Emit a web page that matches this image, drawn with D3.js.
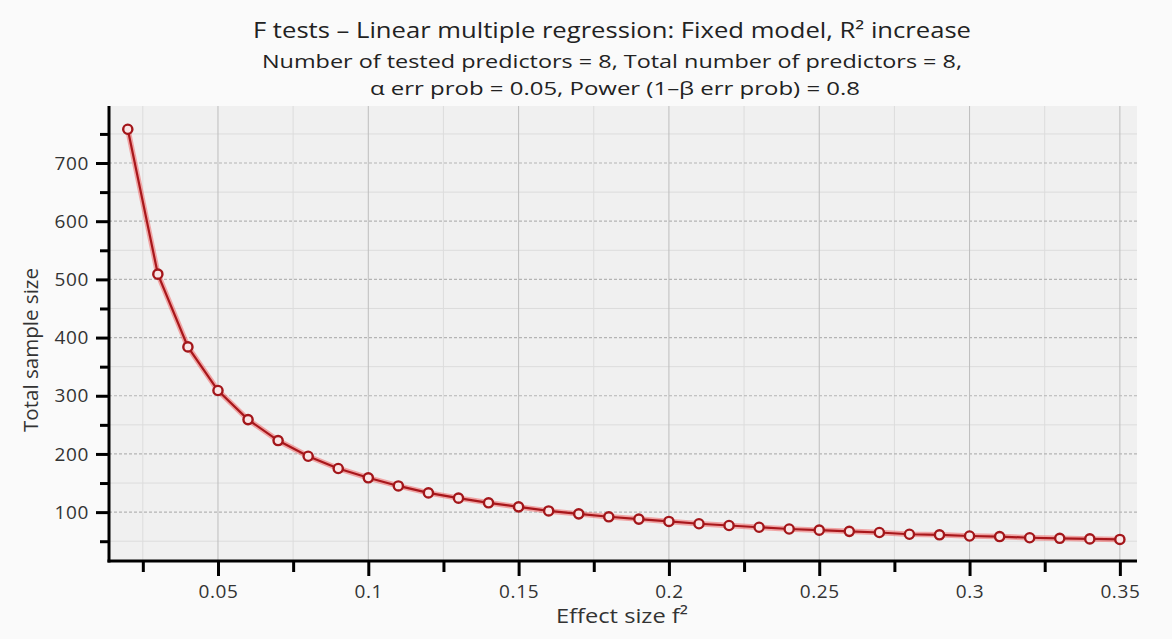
<!DOCTYPE html>
<html>
<head>
<meta charset="utf-8">
<script src="https://cdn.jsdelivr.net/npm/d3@7"></script>
<style>
  body { margin: 0; background: #fafafa; }
  svg { display: block; font-family: "Open Sans", "DejaVu Sans", sans-serif; }
</style>
</head>
<body>
<div id="chart"></div>
<script>
// effect size f² values and total sample size
var effectSizes = [0.02, 0.03, 0.04, 0.05, 0.06, 0.07, 0.08, 0.09, 0.10, 0.11, 0.12,
  0.13, 0.14, 0.15, 0.16, 0.17, 0.18, 0.19, 0.20, 0.21, 0.22, 0.23, 0.24, 0.25,
  0.26, 0.27, 0.28, 0.29, 0.30, 0.31, 0.32, 0.33, 0.34, 0.35];
var sampleSizes = [758, 509, 384, 309, 259, 223, 196, 175, 159, 145, 133,
  124, 116, 109, 102, 97, 92, 88, 84, 80, 77, 74, 71, 69,
  67, 65, 62, 61, 59, 58, 56, 55, 54, 53];
var xMajorTicks = [0.05, 0.1, 0.15, 0.2, 0.25, 0.3, 0.35];
var xMinorTicks = [0.025, 0.075, 0.125, 0.175, 0.225, 0.275, 0.325];
var yMajorTicks = [100, 200, 300, 400, 500, 600, 700];
var yMinorTicks = [50, 150, 250, 350, 450, 550, 650, 750];

var titleText = "F tests \u2013 Linear multiple regression: Fixed model, R\u00b2 increase";
var subLine1 = "Number of tested predictors = 8, Total number of predictors = 8,";
var subLine2 = "\u03b1 err prob = 0.05, Power (1\u2013\u03b2 err prob) = 0.8";

var width = 1172, height = 639;
var plotLeft = 109, plotRight = 1137, plotTop = 106, plotBottom = 561;

var svg = d3.select("#chart").append("svg")
  .attr("width", width)
  .attr("height", height);

svg.append("rect").attr("width", width).attr("height", height).attr("fill", "#fafafa");

var x = d3.scaleLinear().domain([0.01375, 0.3557]).range([plotLeft, plotRight]);
var y = d3.scaleLinear().domain([16, 798]).range([plotBottom, plotTop]);

// plot background
svg.append("rect")
  .attr("x", plotLeft).attr("y", plotTop)
  .attr("width", plotRight - plotLeft).attr("height", plotBottom - plotTop)
  .attr("fill", "#f0f0f0");

// grid
var grid = svg.append("g");
grid.selectAll(".ymin").data(yMinorTicks).enter().append("line")
  .attr("x1", plotLeft).attr("x2", plotRight)
  .attr("y1", function(d){ return y(d); }).attr("y2", function(d){ return y(d); })
  .attr("stroke", "#dcdcdc").attr("stroke-width", 1);
grid.selectAll(".xmin").data(xMinorTicks).enter().append("line")
  .attr("y1", plotTop).attr("y2", plotBottom)
  .attr("x1", function(d){ return x(d); }).attr("x2", function(d){ return x(d); })
  .attr("stroke", "#dcdcdc").attr("stroke-width", 1);
grid.selectAll(".ymaj").data(yMajorTicks).enter().append("line")
  .attr("x1", plotLeft).attr("x2", plotRight)
  .attr("y1", function(d){ return y(d); }).attr("y2", function(d){ return y(d); })
  .attr("stroke", "#b4b4b4").attr("stroke-width", 1.2)
  .attr("stroke-dasharray", "3,2");
grid.selectAll(".xmaj").data(xMajorTicks).enter().append("line")
  .attr("y1", plotTop).attr("y2", plotBottom)
  .attr("x1", function(d){ return x(d); }).attr("x2", function(d){ return x(d); })
  .attr("stroke", "#bdbdbd").attr("stroke-width", 1);

// axes
var xAxis = svg.append("g").attr("transform", "translate(0," + plotBottom + ")")
  .call(d3.axisBottom(x).tickValues(xMajorTicks).tickSize(15).tickPadding(9)
    .tickFormat(function(d){ return String(+d.toFixed(3)); }));
svg.append("g").attr("transform", "translate(0," + plotBottom + ")")
  .call(d3.axisBottom(x).tickValues(xMinorTicks).tickSize(11).tickFormat(""))
  .select(".domain").remove();

var yAxis = svg.append("g").attr("transform", "translate(" + plotLeft + ",0)")
  .call(d3.axisLeft(y).tickValues(yMajorTicks).tickSize(13).tickPadding(7));
svg.append("g").attr("transform", "translate(" + plotLeft + ",0)")
  .call(d3.axisLeft(y).tickValues(yMinorTicks).tickSize(9).tickFormat(""))
  .select(".domain").remove();

svg.selectAll(".domain").attr("stroke", "#000").attr("stroke-width", 3);
xAxis.select(".domain").attr("d", "M" + (plotLeft - 1.5) + ",0H" + plotRight);
yAxis.select(".domain").attr("d", "M0," + plotTop + "V" + (plotBottom + 1.5));
svg.selectAll(".tick line").attr("stroke", "#000").attr("stroke-width", 3);
xAxis.attr("font-size", 19).attr("font-family", null);
yAxis.attr("font-size", 19).attr("font-family", null);
svg.selectAll(".tick text").attr("fill", "#333").style("letter-spacing", "0.6px");

// line and points
var line = d3.line()
  .x(function(d, i){ return x(effectSizes[i]); })
  .y(function(d){ return y(d); });

svg.append("path").datum(sampleSizes)
  .attr("d", line).attr("fill", "none")
  .attr("stroke", "#f05a5a").attr("stroke-width", 5.5).attr("stroke-opacity", 0.5);
svg.append("path").datum(sampleSizes)
  .attr("d", line).attr("fill", "none")
  .attr("stroke", "#a8171b").attr("stroke-width", 2.2);

svg.selectAll(".pt").data(sampleSizes).enter().append("circle")
  .attr("cx", function(d, i){ return x(effectSizes[i]); })
  .attr("cy", function(d){ return y(d); })
  .attr("r", 4.6)
  .attr("fill", "#f9e6e6")
  .attr("stroke", "#a3161a").attr("stroke-width", 2.4);

// titles
svg.append("text").attr("x", 612).attr("y", 38)
  .attr("text-anchor", "middle").attr("fill", "#222")
  .style("font-size", "21px")
  .attr("textLength", 718).attr("lengthAdjust", "spacingAndGlyphs")
  .text(titleText);
svg.append("text").attr("x", 612).attr("y", 68)
  .attr("text-anchor", "middle").attr("fill", "#222")
  .style("font-size", "18px")
  .attr("textLength", 700).attr("lengthAdjust", "spacingAndGlyphs")
  .text(subLine1);
svg.append("text").attr("x", 615).attr("y", 95)
  .attr("text-anchor", "middle").attr("fill", "#222")
  .style("font-size", "18px")
  .attr("textLength", 490).attr("lengthAdjust", "spacingAndGlyphs")
  .text(subLine2);

// axis labels
svg.append("text").attr("x", 622).attr("y", 623)
  .attr("text-anchor", "middle").attr("fill", "#333")
  .style("font-size", "20px")
  .attr("textLength", 132).attr("lengthAdjust", "spacingAndGlyphs")
  .text("Effect size f\u00b2");
svg.append("text")
  .attr("transform", "translate(38,350) rotate(-90)")
  .attr("text-anchor", "middle").attr("fill", "#333")
  .style("font-size", "20px")
  .attr("textLength", 164).attr("lengthAdjust", "spacingAndGlyphs")
  .text("Total sample size");
</script>
</body>
</html>
